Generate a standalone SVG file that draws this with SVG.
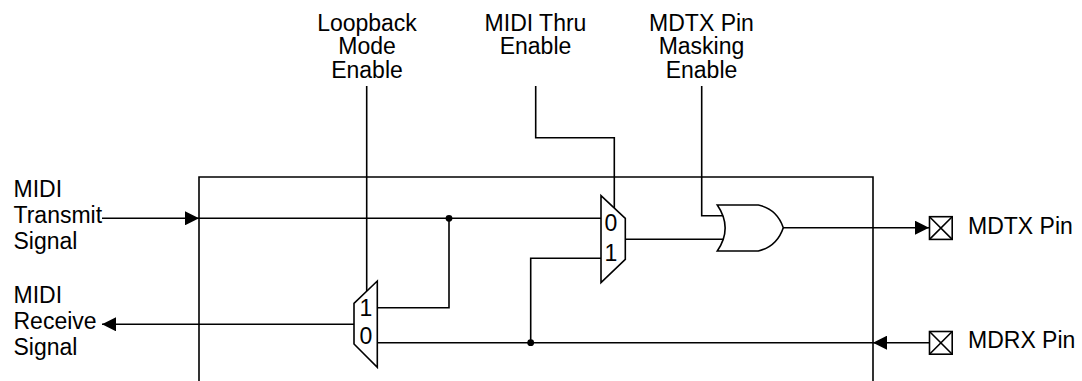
<svg xmlns="http://www.w3.org/2000/svg" width="1082" height="381" viewBox="0 0 1082 381">
<style>
  .ln{fill:none;stroke:#000;stroke-width:1.6}
  .sh{fill:#fff;stroke:#000;stroke-width:1.6}
  .t{font-family:"Liberation Sans",Arial,sans-serif;font-size:23px;fill:#000}
  .d{font-family:"Liberation Sans",Arial,sans-serif;font-size:23px;fill:#000}
  .m{text-anchor:middle}
</style>
<defs>
  <marker id="ah" markerWidth="14" markerHeight="14" refX="14" refY="7" orient="auto" markerUnits="userSpaceOnUse">
    <path d="M0,0 L14,7 L0,14 Z" fill="#000"/>
  </marker>
</defs>
<rect width="1082" height="381" fill="#fff"/>
<g id="block">
  <path class="ln" d="M199,390 V177 H873 V390"/>
</g>
<g id="connectors">
  <line class="ln" x1="102" y1="218.3" x2="199" y2="218.3" marker-end="url(#ah)"/>
  <line class="ln" x1="199" y1="218.3" x2="601" y2="218.3"/>
  <line class="ln" x1="354" y1="324.3" x2="102" y2="324.3" marker-end="url(#ah)"/>
  <path class="ln" d="M377,307.7 H449 V218.3"/>
  <line class="ln" x1="377" y1="342.7" x2="873" y2="342.7"/>
  <line class="ln" x1="929" y1="342.7" x2="873" y2="342.7" marker-end="url(#ah)"/>
  <path class="ln" d="M530.7,342.7 V258.3 H601"/>
  <line class="ln" x1="366.7" y1="86" x2="366.7" y2="291"/>
  <path class="ln" d="M535.7,86 V137.7 H614.3 V208"/>
  <line class="ln" x1="625.3" y1="239.3" x2="724" y2="239.3"/>
  <path class="ln" d="M701.7,86 V215.7 H724"/>
  <line class="ln" x1="783.3" y1="227.7" x2="929" y2="227.7" marker-end="url(#ah)"/>
  <circle cx="449" cy="218.3" r="3.4" fill="#000"/>
  <circle cx="530.7" cy="342.7" r="3.4" fill="#000"/>
</g>
<g id="mux-loopback">
  <polygon class="sh" points="354,303.3 377.3,281 377.3,367.3 354,344"/>
  <text class="d m" x="366" y="316">1</text>
  <text class="d m" x="366" y="344">0</text>
</g>
<g id="mux-thru">
  <polygon class="sh" points="601,195.7 625.3,218.3 625.3,259.3 601,282.7"/>
  <text class="d m" x="611" y="231">0</text>
  <text class="d m" x="611" y="261">1</text>
</g>
<g id="or-gate">
  <path class="sh" d="M717.3,205 H758.3 Q777,209 783.3,227.7 Q777,246.5 758.3,251 H717.3 Q733,228 717.3,205 Z"/>
</g>
<g id="pin-mdtx">
  <rect class="sh" x="929.5" y="216.7" width="22.7" height="22.7"/>
  <path class="ln" d="M929.5,216.7 L952.2,239.4 M952.2,216.7 L929.5,239.4"/>
  <text class="t" x="968" y="234.3">MDTX Pin</text>
</g>
<g id="pin-mdrx">
  <rect class="sh" x="929.5" y="331.5" width="22.7" height="22.7"/>
  <path class="ln" d="M929.5,331.5 L952.2,354.2 M952.2,331.5 L929.5,354.2"/>
  <text class="t" x="968" y="348">MDRX Pin</text>
</g>
<g id="label-loopback">
  <text class="t m" x="367" y="30.5"><tspan x="367">Loopback</tspan><tspan x="367" dy="23.5">Mode</tspan><tspan x="367" dy="23.5">Enable</tspan></text>
</g>
<g id="label-thru">
  <text class="t m" x="535.5" y="30.5"><tspan x="535.5">MIDI Thru</tspan><tspan x="535.5" dy="23.5">Enable</tspan></text>
</g>
<g id="label-mask">
  <text class="t m" x="701.5" y="30.5"><tspan x="701.5">MDTX Pin</tspan><tspan x="701.5" dy="23.5">Masking</tspan><tspan x="701.5" dy="23.5">Enable</tspan></text>
</g>
<g id="label-transmit">
  <text class="t" x="13.5" y="196.7"><tspan x="13.5">MIDI</tspan><tspan x="13.5" dy="26">Transmit</tspan><tspan x="13.5" dy="26">Signal</tspan></text>
</g>
<g id="label-receive">
  <text class="t" x="13.5" y="303"><tspan x="13.5">MIDI</tspan><tspan x="13.5" dy="26">Receive</tspan><tspan x="13.5" dy="26">Signal</tspan></text>
</g>
</svg>
